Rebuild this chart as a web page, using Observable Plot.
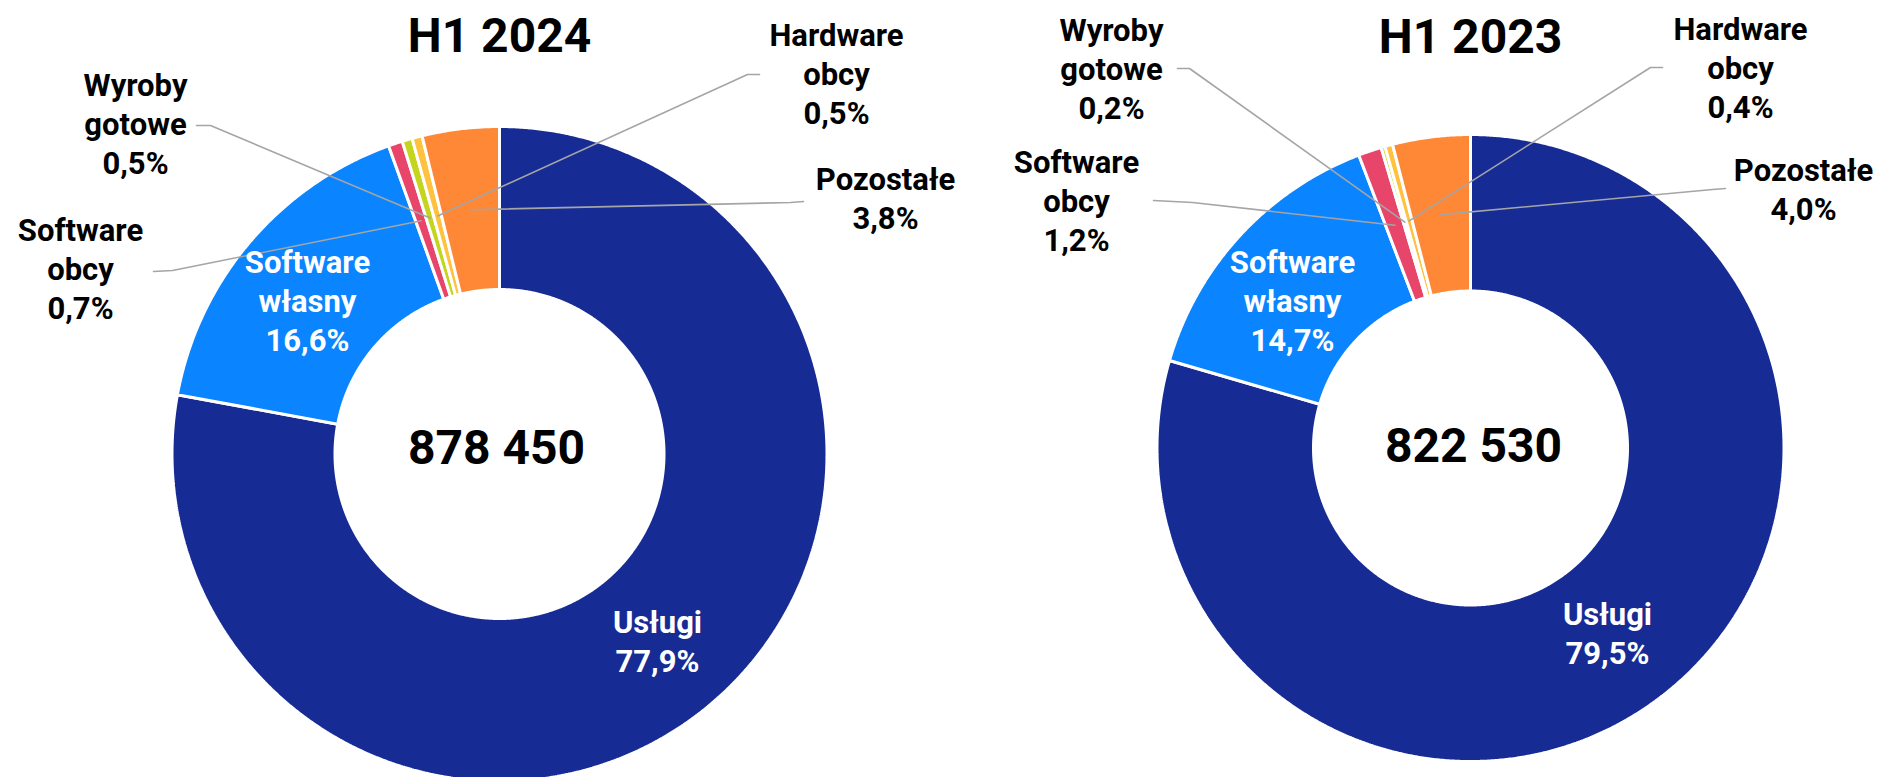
<!DOCTYPE html>
<html>
<head>
<meta charset="utf-8">
<script src="https://cdn.jsdelivr.net/npm/d3@7"></script>
<script src="https://cdn.jsdelivr.net/npm/@observablehq/plot@0.6"></script>
<style>
  html, body { margin: 0; padding: 0; background: #fff; }
  #chart { width: 1880px; height: 777px; overflow: hidden; }
</style>
</head>
<body>
<div id="chart"></div>
<script>
// ---------------- data ----------------
const categories = ["Usługi", "Software własny", "Software obcy", "Wyroby gotowe", "Hardware obcy", "Pozostałe"];
const periods = ["H1 2024", "H1 2023"];
const share2024 = [77.9, 16.6, 0.7, 0.5, 0.5, 3.8];
const share2023 = [79.5, 14.7, 1.2, 0.2, 0.4, 4.0];
const totals = [878450, 822530];
const colors = ["#172B94", "#0A84FF", "#E8456A", "#C3D51C", "#FFC23E", "#FF8836"];

// ---------------- layout (pixels) ----------------
const W = 1880, H = 777;
const donutLayout = [
  {cx: 499, cy: 453.5, r0: 166, r1: 326, titleY: 51, totalX: 496, totalY: 463},
  {cx: 1470, cy: 447.5, r0: 158.5, r1: 312, titleY: 52, totalX: 1473, totalY: 461}
];
// label anchor (center x, last-line baseline y), leader start + elbow, inside?
const labelLayout = [
  [
    {x: 657, y: 671, inside: true},
    {x: 307, y: 350, inside: true},
    {x: 80, y: 318, lead: [[153, 271], [172, 270]]},
    {x: 135, y: 173, lead: [[196, 125], [210, 125]]},
    {x: 836, y: 123, lead: [[759, 74], [747, 74]]},
    {x: 885, y: 228, lead: [[803, 201], [790, 202]]}
  ],
  [
    {x: 1607, y: 663, inside: true},
    {x: 1292, y: 350, inside: true},
    {x: 1076, y: 250, lead: [[1153, 200], [1192, 202]]},
    {x: 1111, y: 118, lead: [[1177, 68], [1189, 68]]},
    {x: 1740, y: 117, lead: [[1662, 67], [1650, 67]]},
    {x: 1803, y: 219, lead: [[1725, 188], [1712, 189]]}
  ]
];
const gap = 3;

// ---------------- build marks' data ----------------
const fmtPct = v => v.toFixed(1).replace(".", ",") + "%";
const fmtTotal = v => d3.format(",")(v).replace(/,/g, " ");

const slicePts = [];
const leaderPts = [];
const labels = [];
const titles = [];
const totalLabels = [];

[share2024, share2023].forEach((shares, p) => {
  const L = donutLayout[p];
  const sum = d3.sum(shares);
  const ro = L.r1 + gap / 2, ri = L.r0 - gap / 2;
  let acc = 0;
  shares.forEach((v, i) => {
    const a0 = acc / sum * 2 * Math.PI;
    acc += v;
    const a1 = acc / sum * 2 * Math.PI;
    const n = Math.max(2, Math.ceil((a1 - a0) * 180 / Math.PI * 3));
    const key = periods[p] + "|" + categories[i];
    for (let k = 0; k <= n; k++) {
      const a = a0 + (a1 - a0) * k / n;
      slicePts.push({key, cat: categories[i], x: L.cx + ro * Math.sin(a), y: L.cy - ro * Math.cos(a)});
    }
    for (let k = n; k >= 0; k--) {
      const a = a0 + (a1 - a0) * k / n;
      slicePts.push({key, cat: categories[i], x: L.cx + ri * Math.sin(a), y: L.cy - ri * Math.cos(a)});
    }
    const lab = labelLayout[p][i];
    const am = (a0 + a1) / 2, rm = (L.r0 + L.r1) / 2;
    if (lab.lead) {
      const pts = [...lab.lead, [L.cx + rm * Math.sin(am), L.cy - rm * Math.cos(am)]];
      pts.forEach(([x, y]) => leaderPts.push({key, x, y}));
    }
    labels.push({
      x: lab.x, y: lab.y,
      text: categories[i].replace(" ", "\n") + "\n" + fmtPct(v),
      color: lab.inside ? "#ffffff" : "#000000"
    });
  });
  titles.push({x: L.cx, y: L.titleY, text: periods[p]});
  totalLabels.push({x: L.totalX, y: L.totalY, text: fmtTotal(totals[p])});
});

// ---------------- plot ----------------
const chart = Plot.plot({
  width: W,
  height: H,
  margin: 0,
  x: {domain: [0, W], range: [0, W], axis: null},
  y: {domain: [0, H], range: [0, H], axis: null},
  color: {domain: categories, range: colors},
  style: {fontFamily: "Roboto, 'Noto Sans', sans-serif", background: "#fff"},
  marks: [
    Plot.line(slicePts, {x: "x", y: "y", z: "key", fill: "cat", stroke: "#ffffff", strokeWidth: gap, curve: "linear-closed", strokeLinejoin: "miter"}),
    Plot.line(leaderPts, {x: "x", y: "y", z: "key", stroke: "#A5A5A5", strokeWidth: 1.6}),
    Plot.text(labels, {x: "x", y: "y", text: "text", fill: "color", fontSize: 31, fontWeight: 700, lineAnchor: "bottom", lineHeight: 1.25, textAnchor: "middle"}),
    Plot.text(titles, {x: "x", y: "y", text: "text", fill: "#000", fontSize: 48, fontWeight: 700, lineAnchor: "bottom", textAnchor: "middle"}),
    Plot.text(totalLabels, {x: "x", y: "y", text: "text", fill: "#000", fontSize: 48, fontWeight: 700, lineAnchor: "bottom", textAnchor: "middle"})
  ]
});
document.getElementById("chart").appendChild(chart);
</script>
</body>
</html>
